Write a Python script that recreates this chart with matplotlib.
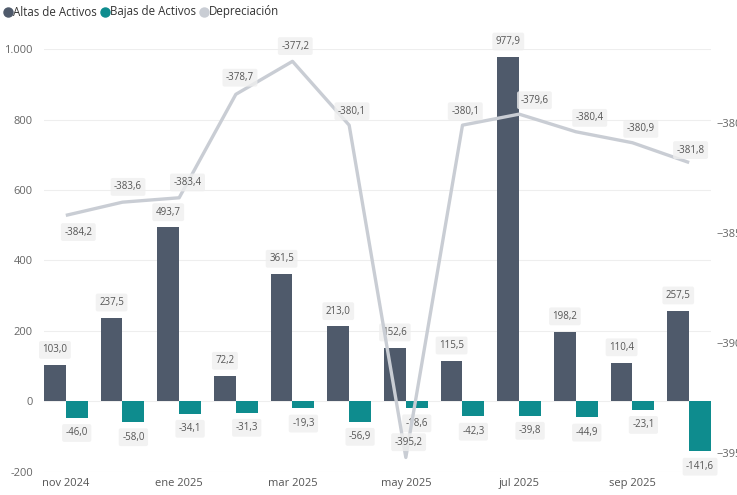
import matplotlib
matplotlib.use('Agg')
import matplotlib.pyplot as plt
from matplotlib.lines import Line2D
import numpy as np

plt.rcParams['font.family'] = ['Open Sans', 'DejaVu Sans']

months = ['nov 2024', 'dic 2024', 'ene 2025', 'feb 2025', 'mar 2025', 'abr 2025',
          'may 2025', 'jun 2025', 'jul 2025', 'ago 2025', 'sep 2025', 'oct 2025']
altas = [103.0, 237.5, 493.7, 72.2, 361.5, 213.0, 152.6, 115.5, 977.9, 198.2, 110.4, 257.5]
bajas = [-46.0, -58.0, -34.1, -31.3, -19.3, -56.9, -18.6, -42.3, -39.8, -44.9, -23.1, -141.6]
depre = [-384.2, -383.6, -383.4, -378.7, -377.2, -380.1, -395.2, -380.1, -379.6, -380.4, -380.9, -381.8]

c_altas = '#4f5a6b'
c_bajas = '#0e8c8e'
c_depre = '#c9cdd4'

def fmt(v):
    return ('%.1f' % v).replace('.', ',')

fig = plt.figure(figsize=(7.37, 4.95), dpi=100)
ax = fig.add_axes([0.0597, 0.0465, 0.905, 0.8545])
ax2 = ax.twinx()
ax.set_zorder(1)
ax2.set_zorder(2)
ax2.patch.set_visible(False)

x = np.arange(len(months))
w = 0.385
ax.bar(x - w / 2, altas, w, color=c_altas, zorder=2)
ax.bar(x + w / 2, bajas, w, color=c_bajas, zorder=2)
ax.set_xlim(-w, len(months) - 1 + w)
ax.set_ylim(-200, 1000)
ax.set_yticks([-200, 0, 200, 400, 600, 800, 1000])
ax.set_yticklabels(['-200', '0', '200', '400', '600', '800', '1.000'])
ax.grid(axis='y', color='#eeeeee', linewidth=0.8, zorder=0)
ax.set_xticks(x[::2])
ax.set_xticklabels(months[::2])
ax.tick_params(axis='y', length=0, pad=8, labelsize=8, labelcolor='#666666')
ax.tick_params(axis='x', length=0, pad=4, labelsize=8, labelcolor='#555555')
for s in ax.spines.values():
    s.set_visible(False)

box = dict(boxstyle='round,pad=0.35,rounding_size=0.2', fc='#efefef', ec='none', alpha=0.8)
for i in range(len(months)):
    ax.annotate(fmt(altas[i]), (x[i] - w / 2, altas[i]), xytext=(0, 11), textcoords='offset points',
                ha='center', va='center', fontsize=7, color='#555555', bbox=box, zorder=5)
    ax.annotate(fmt(bajas[i]), (x[i] + w / 2, bajas[i]), xytext=(0, -11), textcoords='offset points',
                ha='center', va='center', fontsize=7, color='#555555', bbox=box, zorder=5)

ax2.plot(x, depre, color=c_depre, linewidth=2.4, solid_capstyle='butt', zorder=3)
ax2.set_ylim(-395.86, -376.64)
ax2.set_yticks([-395, -390, -385, -380])
ax2.tick_params(axis='y', length=0, pad=4, labelsize=8, labelcolor='#666666')
for s in ax2.spines.values():
    s.set_visible(False)

dx = [9, 4, 6, 3, 2, 2, 2, 2, 11, 10, 6, 1]
dy = [-12, 11, 11, 12, 11, 10, 11, 10, 10, 10, 10, 9]
for i in range(len(months)):
    ax2.annotate(fmt(depre[i]), (x[i], depre[i]), xytext=(dx[i], dy[i]), textcoords='offset points',
                 ha='center', va='center', fontsize=7, color='#555555', bbox=box, zorder=6)

items = [('Altas de Activos', c_altas), ('Bajas de Activos', c_bajas), ('Depreciación', c_depre)]
W, H = 737.0, 495.0
xpos = 8.0
yc = 1 - 12 / H
for label, col in items:
    fig.add_artist(Line2D([xpos / W], [yc], marker='o', markersize=6.5, color=col,
                          linestyle='none', transform=fig.transFigure))
    t = fig.text((xpos + 5) / W, yc, label, color='#333333', fontsize=8.3, va='center', ha='left')
    fig.canvas.draw()
    bb = t.get_window_extent()
    xpos = bb.x1 + 8

fig.savefig('out.png', dpi=100)
